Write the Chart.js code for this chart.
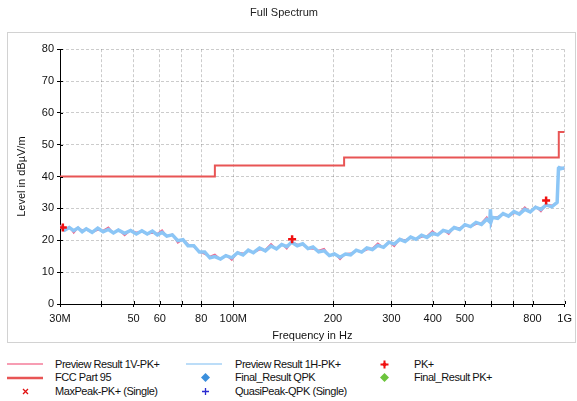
<!DOCTYPE html>
<html>
<head>
<meta charset="utf-8">
<script src="https://cdn.jsdelivr.net/npm/chart.js@4.4.1/dist/chart.umd.min.js"></script>
<style>
  body { margin: 0; background: #fff; font-family: "Liberation Sans", Arial, sans-serif; }
  #wrap { position: relative; width: 577px; height: 401px; overflow: hidden; }
  #panel { position: absolute; left: 7px; top: 32px; width: 567px; height: 309px; border: 1px solid #d2d2d2; }
  #chart-box { position: absolute; left: 0; top: 0; width: 577px; height: 345px; }
  .lg { position: absolute; font-size: 11px; line-height: 13px; letter-spacing: -0.45px; color: #111; white-space: nowrap; }
  .sw { position: absolute; }
</style>
</head>
<body>
<div id="wrap">
  <div id="panel"></div>
  <div id="chart-box"><canvas id="spectrum-chart"></canvas></div>
  <div id="legend"></div>
</div>
<script>
// frequencies in MHz
const freqMHz = [30, 31, 32, 33, 34, 35, 36, 37.5, 39, 40.5, 42, 43.5, 45, 47, 49, 51, 53, 55, 57, 59,
  61, 63, 65.5, 68, 70.5, 73, 76, 79, 82, 85, 88, 91.5, 95, 99, 103, 107, 111, 115, 120, 125,
  130, 135, 140, 145, 150, 156, 162, 168, 174, 181, 188, 195, 202, 210, 218, 226, 235, 244, 253, 263,
  273, 284, 295, 306, 318, 330, 343, 356, 370, 384, 399, 414, 430, 447, 464, 482, 500, 520, 540, 561,
  582, 594, 597, 600, 605, 628, 652, 677, 703, 730, 758, 787, 817, 848, 880, 914, 949, 958, 962, 975,
  990, 1000]

// Preview Result 1H-PK+ (dBuV/m)
const level1H = [24.4, 23.2, 24.0, 23.0, 23.9, 22.7, 23.6, 22.5, 23.8, 22.7, 23.4, 22.3, 23.2, 22.2, 23.1, 22.0, 23.0, 22.0, 22.9, 21.7,
  22.5, 21.3, 21.7, 19.9, 20.2, 18.3, 18.3, 16.3, 16.3, 14.5, 14.9, 14.1, 15.2, 14.5, 16.1, 15.4, 16.9, 16.1, 17.6, 16.7,
  18.2, 17.3, 18.7, 18.0, 19.4, 18.3, 18.9, 17.4, 17.9, 16.4, 16.7, 15.2, 15.7, 14.7, 15.7, 15.4, 16.9, 16.3, 17.6, 17.1,
  18.4, 17.8, 19.4, 18.8, 20.3, 19.6, 21.0, 20.3, 21.6, 20.9, 22.2, 21.7, 23.1, 22.6, 24.0, 23.4, 24.9, 24.3, 25.6, 25.0,
  26.6, 25.8, 29.7, 26.0, 27.2, 26.9, 28.4, 27.6, 29.0, 28.2, 29.7, 28.9, 30.4, 29.7, 31.1, 30.5, 31.9, 42.6, 42.8, 42.5,
  42.7, 42.6]

// Preview Result 1V-PK+ (dBuV/m)
const level1V = [24.8, 23.1, 24.2, 22.3, 24.0, 23.2, 23.3, 22.5, 23.2, 23.1, 24.1, 22.2, 23.4, 21.5, 23.2, 22.5, 22.7, 22.0, 22.3, 22.1,
  23.2, 21.2, 21.9, 19.2, 20.3, 18.8, 18.0, 16.3, 15.7, 14.9, 15.6, 14.0, 15.4, 13.8, 16.2, 15.9, 16.6, 16.1, 17.0, 17.1,
  18.9, 17.2, 18.9, 17.3, 19.5, 18.8, 18.6, 17.4, 17.3, 16.8, 17.4, 15.1, 15.9, 14.0, 15.8, 15.9, 16.6, 16.3, 17.0, 17.5,
  19.1, 17.7, 19.6, 18.1, 20.4, 20.1, 20.7, 20.3, 21.0, 21.3, 22.9, 21.6, 23.3, 21.9, 24.1, 23.9, 24.6, 24.3, 25.0, 25.4,
  27.3, 25.7, 26.4, 25.3, 27.3, 27.4, 28.1, 27.6, 28.4, 28.6, 30.4, 28.8, 30.6, 29.0, 31.2, 31.0, 31.6, 42.3, 42.7, 42.9,
  42.4, 42.6]

// FCC Part 95 limit, stepped
const limitFreq = [30, 88, 216, 960, 1000]
const limitLevel = [40, 43.5, 46, 54, 54]

// PK+ peaks
const pkFreq = [30.6, 150.5, 879]
const pkLevel = [24.0, 20.3, 32.5]

const xTickValues = [30, 40, 50, 60, 70, 80, 100, 200, 300, 400, 500, 600, 700, 800, 1000]
const xTickLabels = ['30M', '', '50', '60', '', '80', '100M', '200', '300', '400', '500', '', '', '800', '1G']

const legendItems = [
  { label: 'Preview Result 1V-PK+', kind: 'line', color: '#f47d9a', width: 1.5, col: 0, row: 0 },
  { label: 'FCC Part 95', kind: 'line', color: '#e85555', width: 2.5, col: 0, row: 1 },
  { label: 'MaxPeak-PK+ (Single)', kind: 'x', color: '#e01010', col: 0, row: 2 },
  { label: 'Preview Result 1H-PK+', kind: 'line', color: '#a6d2f6', width: 1.5, col: 1, row: 0 },
  { label: 'Final_Result QPK', kind: 'diamond', color: '#3b8fdc', col: 1, row: 1 },
  { label: 'QuasiPeak-QPK (Single)', kind: 'plus', color: '#2a2ad0', col: 1, row: 2 },
  { label: 'PK+', kind: 'star', color: '#f01010', col: 2, row: 0 },
  { label: 'Final_Result PK+', kind: 'diamond', color: '#6cc43c', col: 2, row: 1 }
]

const toPoints = (xs, ys) => xs.map((x, i) => ({ x: x, y: ys[i] }))

Chart.defaults.font.family = '"Liberation Sans", Arial, sans-serif'
Chart.defaults.font.size = 11
Chart.defaults.color = '#111'

// short tick marks on the inner side of both axes
const innerTicks = {
  id: 'innerTicks',
  afterDraw (chart) {
    const { ctx, chartArea, scales } = chart
    ctx.save()
    ctx.strokeStyle = '#000'
    ctx.lineWidth = 1
    ctx.beginPath()
    scales.x.ticks.forEach(t => {
      const x = Math.round(scales.x.getPixelForValue(t.value)) + 0.5
      ctx.moveTo(x, chartArea.bottom - 3)
      ctx.lineTo(x, chartArea.bottom)
    })
    scales.y.ticks.forEach(t => {
      const y = Math.round(scales.y.getPixelForValue(t.value)) + 0.5
      ctx.moveTo(chartArea.left, y)
      ctx.lineTo(chartArea.left + 3, y)
    })
    ctx.stroke()
    ctx.restore()
  }
}

new Chart(document.getElementById('spectrum-chart'), {
  type: 'line',
  data: {
    datasets: [{
      label: 'PK+',
      data: toPoints(pkFreq, pkLevel),
      showLine: false,
      pointStyle: 'cross',
      pointRadius: 4,
      pointBorderWidth: 2.5,
      borderColor: '#f01010',
      backgroundColor: '#f01010',
      order: 0
    }, {
      label: 'Preview Result 1H-PK+',
      data: toPoints(freqMHz, level1H),
      borderColor: '#8cc6f6',
      borderWidth: 3.5,
      pointRadius: 0,
      tension: 0,
      order: 1
    }, {
      label: 'Preview Result 1V-PK+',
      data: toPoints(freqMHz, level1V),
      borderColor: '#f2668b',
      borderWidth: 1.5,
      pointRadius: 0,
      tension: 0,
      order: 2
    }, {
      label: 'FCC Part 95',
      data: toPoints(limitFreq, limitLevel),
      borderColor: '#e85555',
      borderWidth: 2,
      pointRadius: 0,
      stepped: 'before',
      order: 3
    }]
  },
  options: {
    parsing: false,
    animation: false,
    responsive: true,
    maintainAspectRatio: false,
    layout: { padding: { left: 0, right: 9, top: 0, bottom: 1 } },
    plugins: {
      legend: { display: false },
      tooltip: { enabled: false },
      title: {
        display: true,
        text: 'Full Spectrum',
        color: '#222',
        font: { size: 11, weight: 'normal' },
        padding: { top: 6, bottom: 30 }
      }
    },
    scales: {
      x: {
        type: 'logarithmic',
        min: 30,
        max: 1000,
        afterBuildTicks: s => { s.ticks = xTickValues.map(v => ({ value: v })) },
        afterFit: s => { s.height = 40 },
        ticks: {
          autoSkip: false,
          maxRotation: 0,
          minRotation: 0,
          padding: 5,
          color: '#111',
          callback: (v, i) => xTickLabels[i]
        },
        grid: { color: 'rgba(0,0,0,0.2)', tickColor: '#000', tickLength: 3 },
        border: { color: '#000', width: 1, dash: [3, 2] },
        title: {
          display: true,
          text: 'Frequency in Hz',
          color: '#111',
          padding: { top: 0, bottom: 1 }
        }
      },
      y: {
        min: 0,
        max: 80,
        afterFit: s => { s.width = 60 },
        ticks: {
          stepSize: 5,
          padding: 3,
          color: '#111',
          callback: v => (v % 10 === 0 ? v : '')
        },
        grid: { color: 'rgba(0,0,0,0.2)', tickColor: '#000', tickLength: 3 },
        border: { color: '#000', width: 1, dash: [3, 2] },
        title: {
          display: true,
          text: 'Level in dBµV/m',
          color: '#111',
          padding: { top: 15, bottom: 0 }
        }
      }
    }
  },
  plugins: [innerTicks]
})

// legend below the panel
const legendEl = document.getElementById('legend')
const colLine = [[7, 43], [186, 222], [366, 400]]
const colMark = [25, 205, 384]
const colText = [55, 235, 414]
const rowY = [364, 377.5, 391.5]

function swatchSvg (item) {
  const c = item.color
  if (item.kind === 'line') {
    return `<svg width="36" height="6"><line x1="0" y1="3" x2="36" y2="3" stroke="${c}" stroke-width="${item.width}"/></svg>`
  }
  if (item.kind === 'diamond') {
    return `<svg width="9" height="9"><polygon points="4.5,0 9,4.5 4.5,9 0,4.5" fill="${c}"/></svg>`
  }
  if (item.kind === 'x') {
    return `<svg width="9" height="9"><path d="M2 2 L7 7 M7 2 L2 7" stroke="${c}" stroke-width="1.3"/></svg>`
  }
  if (item.kind === 'plus') {
    return `<svg width="9" height="9"><path d="M4.5 1 L4.5 8 M1 4.5 L8 4.5" stroke="${c}" stroke-width="1.3"/></svg>`
  }
  return `<svg width="9" height="9"><path d="M4.5 0.5 L4.5 8.5 M0.5 4.5 L8.5 4.5" stroke="${c}" stroke-width="2"/><polygon points="4.5,2 7,4.5 4.5,7 2,4.5" fill="${c}"/></svg>`
}

legendItems.forEach(item => {
  const sw = document.createElement('div')
  sw.className = 'sw'
  sw.innerHTML = swatchSvg(item)
  const y = rowY[item.row]
  if (item.kind === 'line') {
    sw.style.left = colLine[item.col][0] + 'px'
    sw.style.top = (y - 3) + 'px'
  } else {
    sw.style.left = (colMark[item.col] - 4.5) + 'px'
    sw.style.top = (y - 4.5) + 'px'
  }
  sw.style.lineHeight = '0'
  legendEl.appendChild(sw)

  const tx = document.createElement('div')
  tx.className = 'lg'
  tx.textContent = item.label
  tx.style.left = colText[item.col] + 'px'
  tx.style.top = (y - 6.5) + 'px'
  legendEl.appendChild(tx)
})
</script>
</body>
</html>
